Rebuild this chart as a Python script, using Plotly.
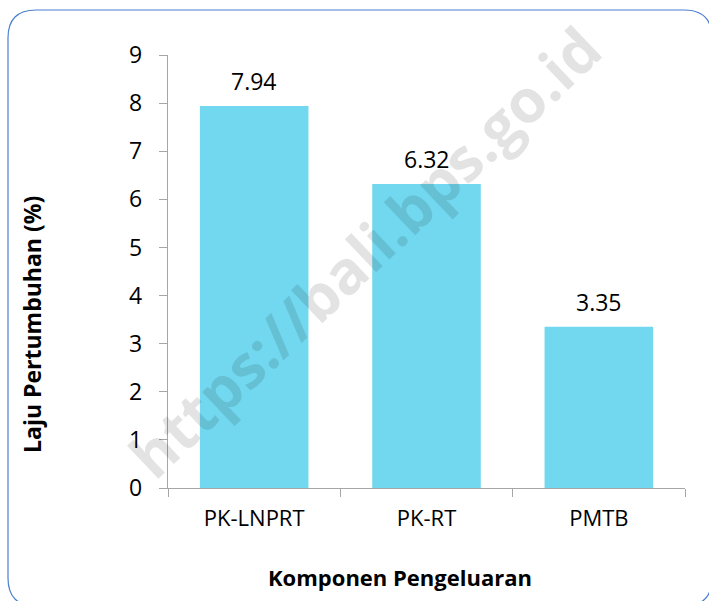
import plotly.graph_objects as go

categories = ["PK-LNPRT", "PK-RT", "PMTB"]
values = [7.94, 6.32, 3.35]
value_labels = ["7.94", "6.32", "3.35"]
y_ticks = [0, 1, 2, 3, 4, 5, 6, 7, 8, 9]

W, H = 709, 601
L, R, T, B = 168, 24, 55, 113
PW, PH = W - L - R, H - T - B

def px(x):
    return (x - L) / PW

def py(y):
    return (H - B - y) / PH

FONT = "Open Sans"

fig = go.Figure(go.Bar(
    x=categories, y=values,
    marker=dict(color="#72d8ef", line=dict(width=0)),
    width=0.63,
))

# rounded border
x0, y0, x1, y1, r = 8, 10, 712, 606, 28
path = (f"M {px(x0+r)},{py(y0)} L {px(x1-r)},{py(y0)} Q {px(x1)},{py(y0)} {px(x1)},{py(y0+r)} "
        f"L {px(x1)},{py(y1-r)} Q {px(x1)},{py(y1)} {px(x1-r)},{py(y1)} "
        f"L {px(x0+r)},{py(y1)} Q {px(x0)},{py(y1)} {px(x0)},{py(y1-r)} "
        f"L {px(x0)},{py(y0+r)} Q {px(x0)},{py(y0)} {px(x0+r)},{py(y0)} Z")

annotations = [
    dict(x=c, y=v, text=t, xref="x", yref="y", yanchor="bottom", yshift=7,
         showarrow=False, font=dict(size=23, family=FONT, color="#000000"))
    for c, v, t in zip(categories, values, value_labels)
]
annotations += [
    dict(text="<b>https://bali.bps.go.id</b>", xref="paper", yref="paper",
         x=px(364), y=py(252), xanchor="center", yanchor="middle",
         showarrow=False, textangle=-43.5,
         font=dict(size=60, color="rgba(0,0,0,0.11)", family=FONT)),
    dict(text="(y-on-y)", xref="paper", yref="paper", x=px(432), y=py(-1),
         xanchor="center", yanchor="bottom", showarrow=False,
         font=dict(size=20, family=FONT, color="#000000")),
    dict(text="<b>Komponen Pengeluaran</b>", xref="paper", yref="paper",
         x=px(400), y=py(577), xanchor="center", yanchor="middle", showarrow=False,
         font=dict(size=22, family=FONT, color="#000000")),
    dict(text="<b>Laju Pertumbuhan (%)</b>", xref="paper", yref="paper",
         x=px(32), y=py(325), xanchor="center", yanchor="middle",
         showarrow=False, textangle=-90,
         font=dict(size=23, family=FONT, color="#000000")),
]

fig.update_layout(
    width=W, height=H,
    margin=dict(l=L, r=R, t=T, b=B),
    paper_bgcolor="white", plot_bgcolor="white",
    showlegend=False, bargap=0.37,
    font=dict(family=FONT, color="#000000"),
    shapes=[dict(type="path", xref="paper", yref="paper", path=path,
                 line=dict(color="#4a7fd0", width=1.2), layer="below")],
    annotations=annotations,
)

fig.update_xaxes(
    showline=True, linecolor="#a6a6a6", linewidth=1.3,
    ticks="outside", tickson="boundaries", ticklen=8, tickcolor="#a6a6a6",
    tickfont=dict(size=22, family=FONT), showgrid=False, ticklabelstandoff=10,
)
fig.update_yaxes(
    range=[0, 9], tickvals=y_ticks, showline=True, linecolor="#a6a6a6", linewidth=1.3,
    ticks="outside", ticklen=8, tickcolor="#a6a6a6", showgrid=False, zeroline=False,
    tickfont=dict(size=23, family=FONT), ticklabelstandoff=12,
)

fig.write_html("out.html", config={"displayModeBar": False},
               post_script="document.body.style.margin='0';")
